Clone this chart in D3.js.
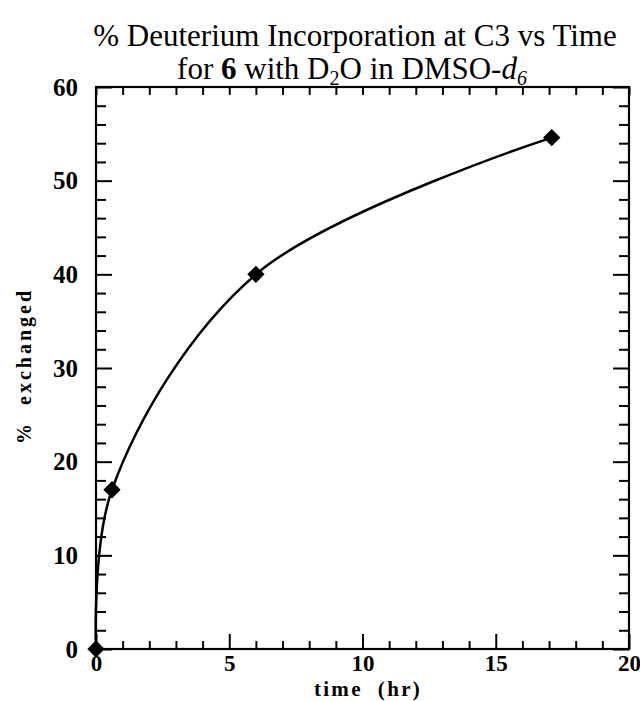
<!DOCTYPE html>
<html>
<head>
<meta charset="utf-8">
<script src="https://cdn.jsdelivr.net/npm/d3@7"></script>
<style>
  body { margin: 0; background: #fff; }
  svg { display: block; }
</style>
</head>
<body>
<div id="chart"></div>
<script>
var w = 640;
var h = 701;

// data
var times = [0, 0.6, 6.0, 17.1];
var exchanged = [0, 17, 40, 54.6];

var xTicks = [0, 5, 10, 15, 20];
var yTicks = [0, 10, 20, 30, 40, 50, 60];
var xMinor = d3.range(1, 20).filter(function(d) { return d % 5 !== 0; });
var yMinor = d3.range(2, 60, 2).filter(function(d) { return d % 10 !== 0; });

var plotLeft = 96, plotRight = 629, plotTop = 87, plotBottom = 649;

var svg = d3.select("#chart")
    .append("svg")
    .attr("width", w)
    .attr("height", h);

var x = d3.scaleLinear().domain([0, 20]).range([plotLeft, plotRight]);
var y = d3.scaleLinear().domain([0, 60]).range([plotBottom, plotTop]);

var serif = "'Liberation Serif', 'Times New Roman', serif";

// title
svg.append("text")
    .attr("text-anchor", "middle")
    .attr("font-family", serif)
    .attr("font-size", 31)
    .attr("fill", "#000")
    .attr("x", 355).attr("y", 46)
    .text("% Deuterium Incorporation at C3 vs Time");

var line2 = svg.append("text")
    .attr("text-anchor", "middle")
    .attr("font-family", serif)
    .attr("font-size", 31)
    .attr("fill", "#000")
    .attr("x", 352).attr("y", 79);
line2.append("tspan").text("for ");
line2.append("tspan").attr("font-weight", "bold").text("6");
line2.append("tspan").text(" with D");
line2.append("tspan").attr("font-size", 20).attr("dy", 6).text("2");
line2.append("tspan").attr("dy", -6).text("O in DMSO-");
line2.append("tspan").attr("font-style", "italic").text("d");
line2.append("tspan").attr("font-style", "italic").attr("font-size", 20).attr("dy", 6).text("6");

// axes: majors with labels, minors without
function styleAxis(g) {
    g.selectAll("path").remove();
    g.selectAll("line").attr("stroke", "#000").attr("stroke-width", 2);
    g.selectAll("text")
        .attr("font-family", serif)
        .attr("font-weight", "bold")
        .attr("font-size", 25)
        .attr("fill", "#000");
}

svg.append("g")
    .attr("transform", "translate(" + plotLeft + ",0)")
    .call(d3.axisLeft(y).tickValues(yTicks).tickSizeInner(-16).tickSizeOuter(0).tickPadding(18))
    .call(styleAxis);
svg.append("g")
    .attr("transform", "translate(" + plotLeft + ",0)")
    .call(d3.axisLeft(y).tickValues(yMinor).tickSizeInner(-10).tickSizeOuter(0).tickFormat(""))
    .call(styleAxis);

svg.append("g")
    .attr("transform", "translate(" + plotRight + ",0)")
    .call(d3.axisRight(y).tickValues(yTicks).tickSizeInner(-16).tickSizeOuter(0).tickFormat(""))
    .call(styleAxis);
svg.append("g")
    .attr("transform", "translate(" + plotRight + ",0)")
    .call(d3.axisRight(y).tickValues(yMinor).tickSizeInner(-10).tickSizeOuter(0).tickFormat(""))
    .call(styleAxis);

svg.append("g")
    .attr("transform", "translate(0," + plotBottom + ")")
    .call(d3.axisBottom(x).tickValues(xTicks).tickSizeInner(-15).tickSizeOuter(0).tickPadding(6))
    .call(styleAxis)
    .selectAll("text").attr("font-size", 23).attr("dy", "0.7em");
svg.append("g")
    .attr("transform", "translate(0," + plotBottom + ")")
    .call(d3.axisBottom(x).tickValues(xMinor).tickSizeInner(-8).tickSizeOuter(0).tickFormat(""))
    .call(styleAxis);

svg.append("g")
    .attr("transform", "translate(0," + plotTop + ")")
    .call(d3.axisTop(x).tickValues(xTicks.concat(xMinor)).tickSizeInner(-8).tickSizeOuter(0).tickFormat(""))
    .call(styleAxis);

// frame
svg.append("rect")
    .attr("x", plotLeft).attr("y", plotTop)
    .attr("width", plotRight - plotLeft).attr("height", plotBottom - plotTop)
    .attr("fill", "none")
    .attr("stroke", "#000")
    .attr("stroke-width", 2.2);

// axis titles
svg.append("text")
    .attr("x", 368).attr("y", 696)
    .attr("text-anchor", "middle")
    .attr("font-family", serif)
    .attr("font-weight", "bold")
    .attr("font-size", 21)
    .attr("letter-spacing", 2.3)
    .style("white-space", "pre")
    .text("time  (hr)");

svg.append("text")
    .attr("transform", "translate(31,366) rotate(-90)")
    .attr("text-anchor", "middle")
    .attr("font-family", serif)
    .attr("font-weight", "bold")
    .attr("font-size", 20)
    .attr("letter-spacing", 3)
    .style("white-space", "pre")
    .text("%  exchanged");

// curve through the points
var pts = times.map(function(t, i) { return [t, exchanged[i]]; });

var line = d3.line()
    .x(function(d) { return x(d[0]); })
    .y(function(d) { return y(d[1]); })
    .curve(d3.curveCatmullRom.alpha(0.5));

svg.append("path")
    .datum(pts)
    .attr("d", line)
    .attr("fill", "none")
    .attr("stroke", "#000")
    .attr("stroke-width", 2.5);

// diamond markers
var diamond = d3.symbol().type(d3.symbolSquare).size(150);
svg.selectAll(".pt")
    .data(pts)
    .enter()
    .append("path")
    .attr("class", "pt")
    .attr("d", diamond)
    .attr("transform", function(d) {
        return "translate(" + x(d[0]) + "," + y(d[1]) + ") rotate(45)";
    })
    .attr("fill", "#000");
</script>
</body>
</html>
